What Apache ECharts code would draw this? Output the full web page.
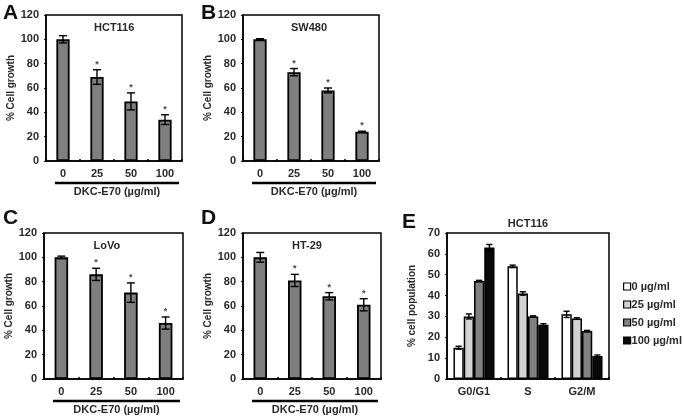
<!DOCTYPE html>
<html><head><meta charset="utf-8">
<script src="https://cdn.jsdelivr.net/npm/echarts@6/dist/echarts.min.js"></script>
<style>html,body{margin:0;padding:0;background:#fff}#c{width:685px;height:417px}</style>
</head><body><div id="c"></div>
<script>
// ---- data ----
const doses = ['0', '25', '50', '100'];
const hct116 = [100, 69, 49, 34];
const hct116Err = [3, 6, 7, 4];
const sw480 = [100, 73, 58, 24];
const sw480Err = [0.5, 3, 2, 0.5];
const lovo = [100, 86, 71, 46];
const lovoErr = [1, 5, 8, 5];
const ht29 = [100, 81, 68, 61];
const ht29Err = [4, 5, 3, 5];
const significant = [false, true, true, true];
const growthTicks = [0, 20, 40, 60, 80, 100, 120];

const phases = ['G0/G1', 'S', 'G2/M'];
const doseNames = ['0 µg/ml', '25 µg/ml', '50 µg/ml', '100 µg/ml'];
const e0 = [15, 54, 31];
const e0Err = [0.7, 0.6, 1.5];
const e25 = [30, 41, 29];
const e25Err = [1.2, 0.8, 0.4];
const e50 = [47, 30, 23];
const e50Err = [0.3, 0.3, 0.3];
const e100 = [63, 26, 11];
const e100Err = [1.5, 0.5, 0.5];
const popTicks = [0, 10, 20, 30, 40, 50, 60, 70];

// ---- layout ----
const FONT = 'Liberation Sans, Arial, sans-serif';
const TXT = '#2a2a2a';
const grids = [
  {left: 46, top: 15, width: 136, height: 146},
  {left: 243, top: 15, width: 136, height: 146},
  {left: 44, top: 233, width: 139, height: 146},
  {left: 243, top: 233, width: 138, height: 146},
  {left: 447, top: 233, width: 162, height: 146}
];
const panels = [
  {v: hct116, e: hct116Err, t: 'HCT116'},
  {v: sw480, e: sw480Err, t: 'SW480'},
  {v: lovo, e: lovoErr, t: 'LoVo'},
  {v: ht29, e: ht29Err, t: 'HT-29'}
];

const chart = echarts.init(document.getElementById('c'), null, {renderer: 'canvas'});

const xAxes = [], yAxes = [], series = [], graphics = [];
grids.forEach((g, i) => {
  const isE = i === 4;
  xAxes.push({
    type: 'category', gridIndex: i, data: isE ? phases : doses,
    axisLine: {lineStyle: {color: '#000', width: 1.5}},
    axisTick: {show: true, inside: true, length: 2, lineStyle: {color: '#000', width: 1.5}},
    axisLabel: {color: TXT, fontFamily: FONT, fontWeight: 'bold', fontSize: 11, margin: 7},
    boundaryGap: true
  });
  yAxes.push({
    type: 'value', gridIndex: i, min: 0, max: isE ? 70 : 120, interval: isE ? 10 : 20,
    name: isE ? '% cell population' : '% Cell growth',
    nameLocation: 'middle', nameRotate: 90, nameGap: isE ? 30 : 28,
    nameTextStyle: {color: TXT, fontFamily: FONT, fontWeight: 'bold', fontSize: 10},
    splitLine: {show: false},
    axisLine: {show: true, lineStyle: {color: '#000', width: 1.5}},
    axisTick: {show: true, length: 2, lineStyle: {color: '#000'}},
    axisLabel: {color: TXT, fontFamily: FONT, fontWeight: 'bold', fontSize: 11, margin: 7}
  });
});

function errSeries(idx, vals, errs, offsetIndex, nBars, gapFrac, star) {
  return {
    type: 'custom', xAxisIndex: idx, yAxisIndex: idx, z: 5, silent: true,
    data: vals.map((v, k) => [k, v, errs[k], star ? (significant[k] ? 1 : 0) : 0]),
    renderItem: function (params, api) {
      const k = api.value(0), v = api.value(1), e = api.value(2), s = api.value(3);
      const catW = api.size([1, 0])[0];
      const bw = catW * (1 - gapFrac) / nBars;
      const off = (offsetIndex - (nBars - 1) / 2) * bw;
      const top = api.coord([k, v + e]);
      const bot = api.coord([k, v - e]);
      const x = top[0] + off;
      const cap = Math.min(4, bw * 0.3);
      const st = {stroke: '#000', lineWidth: 1.4};
      const children = [
        {type: 'line', shape: {x1: x, y1: top[1], x2: x, y2: bot[1]}, style: st},
        {type: 'line', shape: {x1: x - cap, y1: top[1], x2: x + cap, y2: top[1]}, style: st},
        {type: 'line', shape: {x1: x - cap, y1: bot[1], x2: x + cap, y2: bot[1]}, style: st}
      ];
      if (s) {
        children.push({type: 'text', style: {text: '*', x: x, y: top[1] - 1, align: 'center', verticalAlign: 'bottom',
          fill: '#444', font: 'bold 9px ' + FONT}});
      }
      return {type: 'group', children: children};
    }
  };
}

panels.forEach((p, i) => {
  series.push({
    type: 'bar', xAxisIndex: i, yAxisIndex: i, data: p.v, barCategoryGap: '61%',
    itemStyle: {color: '#7f7f7f', borderColor: '#000', borderWidth: 1.8}
  });
  series.push(errSeries(i, p.v, p.e, 0, 1, 0.61, true));
  const g = grids[i];
  graphics.push({type: 'text', left: g.left + g.width / 2 - 20, top: g.top + 7,
    style: {text: p.t, font: 'bold 11px ' + FONT, fill: TXT, width: 40, align: 'center'}});
  // underline + axis title
  graphics.push({type: 'line', shape: {x1: g.left + 9, y1: g.top + g.height + 22, x2: g.left + g.width - 3, y2: g.top + g.height + 22},
    style: {stroke: '#000', lineWidth: 2.5}});
  graphics.push({type: 'text', x: g.left + g.width / 2 + 3, y: g.top + g.height + 31,
    style: {text: 'DKC-E70 (µg/ml)', font: 'bold 11px ' + FONT, fill: TXT, align: 'center', verticalAlign: 'middle'}});
});

const eVals = [e0, e25, e50, e100];
const eErrs = [e0Err, e25Err, e50Err, e100Err];
const eColors = ['#ffffff', '#d3d3d3', '#808080', '#0a0a0a'];
eVals.forEach((vals, j) => {
  series.push({
    type: 'bar', name: doseNames[j], xAxisIndex: 4, yAxisIndex: 4, data: vals,
    barGap: '0%', barCategoryGap: '24%',
    itemStyle: {color: eColors[j], borderColor: '#000', borderWidth: 1.5}
  });
});
eVals.forEach((vals, j) => series.push(errSeries(4, vals, eErrs[j], j, 4, 0.24, false)));

graphics.push({type: 'text', x: 528, y: 224, style: {text: 'HCT116', font: 'bold 11px ' + FONT, fill: TXT, align: 'center', verticalAlign: 'middle'}});
// panel letters
[['A', 3, 3], ['B', 201, 3], ['C', 3, 208], ['D', 201, 208], ['E', 402, 212]].forEach(l => {
  graphics.push({type: 'text', x: l[1], y: l[2], style: {text: l[0], font: 'bold 21px ' + FONT, fill: '#111'}});
});

chart.setOption({
  animation: false,
  backgroundColor: '#fff',
  grid: grids.map(g => Object.assign({show: true, borderColor: '#000', borderWidth: 1.5, backgroundColor: 'transparent'}, g)),
  xAxis: xAxes,
  yAxis: yAxes,
  legend: {
    data: doseNames, orient: 'vertical', left: 623, top: 281, itemGap: 7, padding: 0,
    icon: 'rect', itemWidth: 7, itemHeight: 7,
    textStyle: {color: TXT, fontFamily: FONT, fontWeight: 'bold', fontSize: 11, padding: [0, 0, 0, -4]},
    itemStyle: {borderColor: '#000', borderWidth: 1.2}
  },
  series: series,
  graphic: graphics
});
</script>
</body></html>
